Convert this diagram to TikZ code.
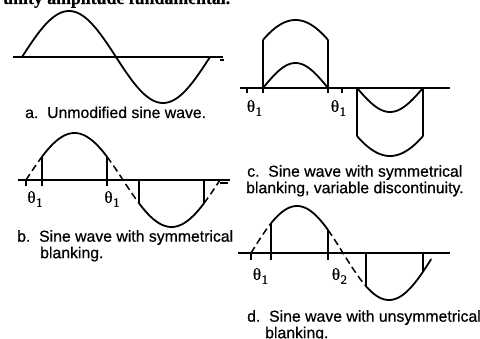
\documentclass[tikz,border=0pt]{standalone}
\usepackage{fontspec}
\setmainfont{Liberation Sans}
\newfontfamily\capfont[FakeBold=0.6]{Liberation Sans}
\newfontfamily\serfont[FakeBold=0.5]{Liberation Serif}
\newfontfamily\serbold[FakeBold=0.4]{Liberation Serif}
\newcommand{\thlab}[1]{θ\kern0.5pt\raisebox{-4pt}{\fontsize{13}{13}\selectfont #1}}
\begin{document}
\begin{tikzpicture}[x=1pt,y=-1pt,
  wave/.style={line width=1.8pt, line join=round, line cap=round},
  axisline/.style={line width=1.8pt},
  blank/.style={line width=1.5pt, dash pattern=on 7pt off 4pt},
  vline/.style={line width=1.4pt},
  tickline/.style={line width=1.2pt},
  captext/.style={anchor=base west, inner sep=0pt, font=\capfont\fontsize{15.8}{16.5}\selectfont},
  lab/.style={inner sep=0pt, font=\serfont\fontsize{17}{17}\selectfont},
  declare function={
    ya(\x)=57-46*sin((\x-22)/94*180);
    yb(\x)=180-47*sin((\x-26)/97*180);
    ycp(\x)=88-25*sin((\x-263)/65*180);
    ycP(\x)=88-68*sin(45+(\x-263)/65*90);
    ycn(\x)=88+24*sin((\x-357)/66*180);
    ycN(\x)=88+68*sin(45+(\x-357)/66*90);
    yd(\x)=253-47*sin((\x-251)/92*180);
  }]
\useasboundingbox (0,0) rectangle (480,339);
\clip (0,0) rectangle (480,339);

% top clipped text
\node[anchor=base west, inner sep=0pt, font=\serbold\bfseries\fontsize{17.8}{18}\selectfont] (toptext) at (3,4) {unity amplitude fundamental.};

% ---------- panel a ----------
\draw[axisline] (13,57) -- (223,57);
\draw[wave] plot[domain=22:210,samples=90] (\x,{ya(\x)});
\node[captext] (capa) at (25,118) {a.\ \ Unmodified sine wave.};

% ---------- panel b ----------
\draw[axisline] (18,180) -- (230,180);
\draw[blank] plot[domain=26:42,samples=12] (\x,{yb(\x)});
\draw[wave] plot[domain=42:107,samples=40] (\x,{yb(\x)});
\draw[blank] plot[domain=107:139,samples=20] (\x,{yb(\x)});
\draw[wave] plot[domain=139:204,samples=40] (\x,{yb(\x)});
\draw[blank] plot[domain=204:220,samples=12] (\x,{yb(\x)});
\draw[vline] (42,186) -- (42,{yb(42)});
\draw[vline] (107,186) -- (107,{yb(107)});
\draw[vline] (139,180) -- (139,{yb(139)});
\draw[vline] (204,180) -- (204,{yb(204)});
\draw[tickline] (26,180) -- (26,186);
\node[lab] (thb1) at (35,199) {\thlab{1}};
\node[lab] (thb2) at (112,199) {\thlab{1}};
\node[captext] (capb1) at (17,241.7) {b.\ \ Sine wave with symmetrical};
\node[captext] (capb2) at (40,258.2) {blanking.};

% ---------- panel c ----------
\draw[axisline] (240,88) -- (450,88);
\draw[wave] plot[domain=263:328,samples=40] (\x,{ycp(\x)});
\draw[wave] plot[domain=263:328,samples=40] (\x,{ycP(\x)});
\draw[wave] plot[domain=357:423,samples=40] (\x,{ycn(\x)});
\draw[wave] plot[domain=357:423,samples=40] (\x,{ycN(\x)});
\draw[vline] (263,93) -- (263,{ycP(263)});
\draw[vline] (328,93) -- (328,{ycP(328)});
\draw[vline] (357,88) -- (357,{ycN(357)});
\draw[vline] (423,88) -- (423,{ycN(423)});
\draw[tickline] (247,88) -- (247,93);
\draw[tickline] (342,88) -- (342,93);
\node[lab] (thc1) at (254.5,108) {\thlab{1}};
\node[lab] (thc2) at (338.5,108) {\thlab{1}};
\node[captext] (capc1) at (247,176.7) {c.\ \ Sine wave with symmetrical};
\node[captext] (capc2) at (246,193.2) {blanking, variable discontinuity.};

% ---------- panel d ----------
\draw[axisline] (238,253) -- (450,253);
\draw[blank] plot[domain=251:271,samples=12] (\x,{yd(\x)});
\draw[wave] plot[domain=271:328,samples=40] (\x,{yd(\x)});
\draw[blank] plot[domain=328:366,samples=24] (\x,{yd(\x)});
\draw[wave] plot[domain=366:431,samples=40] (\x,{yd(\x)});
\draw[vline] (271,260) -- (271,{yd(271)});
\draw[vline] (328,260) -- (328,{yd(328)});
\draw[vline] (366,253) -- (366,{yd(366)});
\draw[vline] (423,253) -- (423,{yd(423)});
\draw[tickline] (251,253) -- (251,260);
\node[lab] (thd1) at (260.5,276) {\thlab{1}};
\node[lab] (thd2) at (339.5,276) {\thlab{2}};
\node[captext] (capd1) at (247,321.7) {d.\ \ Sine wave with unsymmetrical};
\node[captext] (capd2) at (265,338.2) {blanking.};

% stray marks
\draw[tickline] (220,60) -- (224,60);
\draw[tickline] (220,183) -- (228,183);
\end{tikzpicture}
\end{document}
